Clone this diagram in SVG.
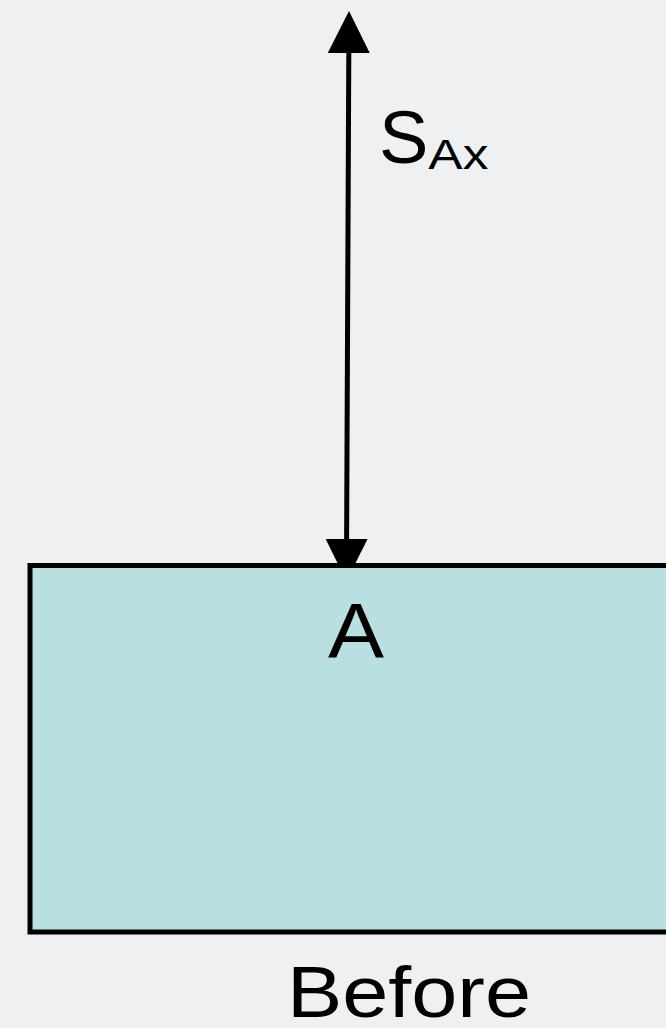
<svg xmlns="http://www.w3.org/2000/svg" width="666" height="1028" viewBox="0 0 666 1028">
  <style>
    .lbl { font-family: "Liberation Sans", Arial, sans-serif; fill: #000; }
    .edge { stroke: #000; stroke-width: 5; fill: none; }
  </style>
  <defs>
    <marker id="head" viewBox="0 0 42 42" refX="0" refY="21" markerWidth="42" markerHeight="42" markerUnits="userSpaceOnUse" orient="auto-start-reverse">
      <path d="M0,0 L42,21 L0,42 Z" fill="#000"/>
    </marker>
  </defs>
  <rect width="666" height="1028" fill="#eef0f2"/>

  <g id="connectors">
    <!-- displacement arrow, double headed -->
    <path class="edge" d="M348.8,53 L346.6,539" marker-start="url(#head)" marker-end="url(#head)"/>
  </g>

  <g id="node-A">
    <rect x="30" y="565.5" width="660" height="366.5" fill="#b9dfe1" stroke="#000" stroke-width="5"/>
    <text class="lbl" x="356" y="658" font-size="78" text-anchor="middle" textLength="56" lengthAdjust="spacingAndGlyphs">A</text>
  </g>

  <g id="label-SAx">
    <text class="lbl" x="379" y="163" font-size="74">S<tspan font-size="42" dy="6" textLength="60" lengthAdjust="spacingAndGlyphs">Ax</tspan></text>
  </g>

  <g id="caption">
    <text class="lbl" x="409" y="1017" font-size="72" text-anchor="middle" textLength="244" lengthAdjust="spacingAndGlyphs">Before</text>
  </g>
</svg>
